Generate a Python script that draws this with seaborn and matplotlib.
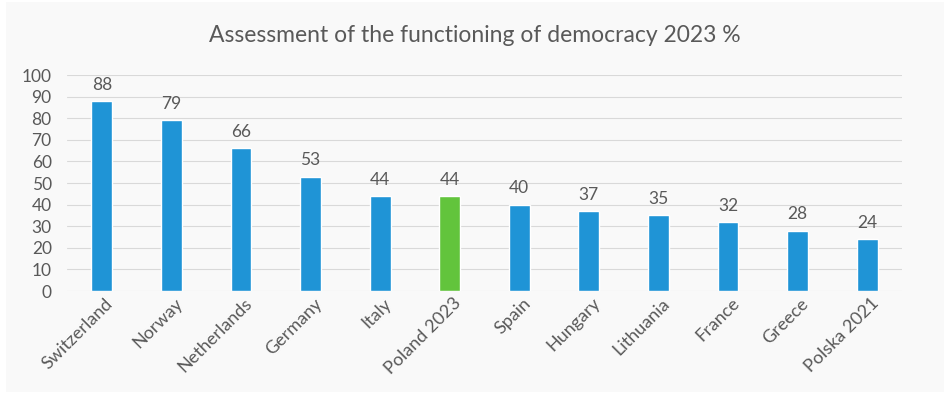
import matplotlib
matplotlib.use("Agg")
import matplotlib.pyplot as plt
import matplotlib.transforms as mtransforms
import seaborn as sns
import pandas as pd

countries = ["Switzerland", "Norway", "Netherlands", "Germany", "Italy",
             "Poland 2023", "Spain", "Hungary", "Lithuania", "France",
             "Greece", "Polska 2021"]
scores = [88, 79, 66, 53, 44, 44, 40, 37, 35, 32, 28, 24]
highlight = "Poland 2023"

title = "Assessment of the functioning of democracy 2023 %"

sns.set_theme(style="white")
plt.rcParams["font.family"] = ["Lato", "DejaVu Sans"]

text_color = "#595959"
blue = "#1f94d6"
green = "#62c43c"

df = pd.DataFrame({"country": countries, "score": scores})
palette = {c: (green if c == highlight else blue) for c in countries}

fig = plt.figure(figsize=(9.5, 3.98), dpi=100, facecolor="white")
# light panel behind the chart
panel = plt.Rectangle((6 / 950, 6 / 398), 938 / 950, 390 / 398,
                      transform=fig.transFigure, facecolor="#f9f9f9",
                      edgecolor="none", zorder=-10)
fig.patches.append(panel)

ax = fig.add_axes([67 / 950, 1 - 291 / 398, 835 / 950, 216 / 398])
ax.set_facecolor("#f9f9f9")

sns.barplot(data=df, x="country", y="score", hue="country", palette=palette,
            width=0.3, legend=False, ax=ax, saturation=1)

ax.set_ylim(0, 100)
ax.set_xlim(-0.5, len(countries) - 0.5)
ax.set_yticks(range(0, 101, 10))
ax.yaxis.grid(True, color="#d9d9d9", linewidth=0.8)
ax.set_axisbelow(True)
for s in ax.spines.values():
    s.set_visible(False)
ax.set_xlabel("")
ax.set_ylabel("")
ax.tick_params(axis="both", length=0, colors=text_color)
ax.tick_params(axis="y", pad=11, labelsize=12.5)
ax.tick_params(axis="x", pad=3, labelsize=13)

# rotated category labels ending just right of each bar centre
offset = mtransforms.ScaledTranslation(3 / 100, 0, fig.dpi_scale_trans)
for lbl in ax.get_xticklabels():
    lbl.set_rotation(45)
    lbl.set_ha("right")
    lbl.set_rotation_mode("anchor")
    lbl.set_transform(lbl.get_transform() + offset)

for container in ax.containers:
    ax.bar_label(container, fmt="%d", padding=6, color=text_color, fontsize=12.5)

fig.text(0.5, 1 - 36 / 398, title, ha="center", va="center",
         fontsize=16.5, color=text_color)

fig.savefig("out.png", dpi=100, facecolor="white")
